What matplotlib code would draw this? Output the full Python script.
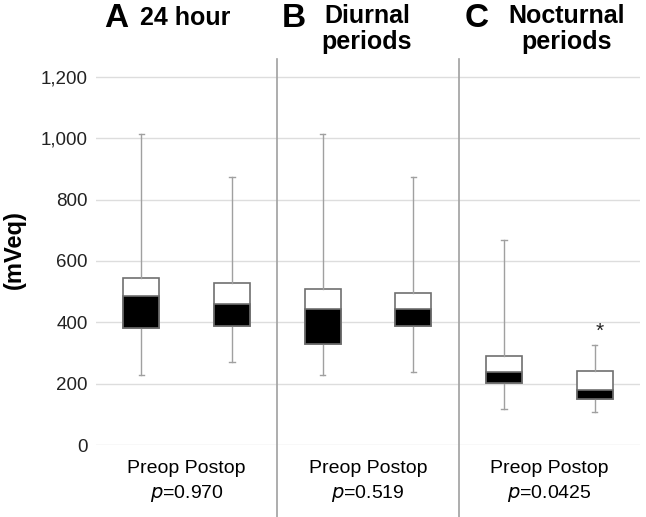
import matplotlib.pyplot as plt

plt.rcParams["font.family"] = ["Liberation Sans", "DejaVu Sans"]

# five-number summaries (mVeq)
groups = ["Preop", "Postop"]
panel_letters = ["A", "B", "C"]
panel_titles = ["24 hour", "Diurnal\nperiods", "Nocturnal\nperiods"]
p_values = ["0.970", "0.519", "0.0425"]

whisker_low = [228, 270, 228, 238, 117, 108]
q1 = [381, 388, 329, 388, 202, 150]
median = [486, 460, 443, 443, 238, 179]
q3 = [544, 528, 509, 496, 290, 241]
whisker_high = [1014, 874, 1014, 874, 669, 326]
positions = [0.25, 0.75, 1.25, 1.75, 2.25, 2.75]

yticks = [0, 200, 400, 600, 800, 1000, 1200]
ytick_labels = ["0", "200", "400", "600", "800", "1,000", "1,200"]

W, H = 646, 517
fig = plt.figure(figsize=(W / 100, H / 100), dpi=100)
ax = fig.add_axes([96 / W, 1 - 445 / H, (640 - 96) / W, (445 - 59) / H])

stats = [
    {"whislo": lo, "q1": a, "med": m, "q3": b, "whishi": hi, "fliers": []}
    for lo, a, m, b, hi in zip(whisker_low, q1, median, q3, whisker_high)
]
ax.bxp(
    stats,
    positions=positions,
    widths=0.2,
    patch_artist=True,
    showfliers=False,
    boxprops={"facecolor": "white", "edgecolor": "#707070", "linewidth": 1.2},
    whiskerprops={"color": "#a0a0a0", "linewidth": 1.0},
    capprops={"color": "#a0a0a0", "linewidth": 1.0},
    capwidths=0.03,
    medianprops={"linewidth": 0},
    zorder=3,
)
# black lower half of each box (Q1 to median)
ax.bar(
    positions,
    [m - a for m, a in zip(median, q1)],
    bottom=q1,
    width=0.2,
    color="black",
    edgecolor="#707070",
    linewidth=1.2,
    zorder=4,
)

ax.text(2.78, 372, "*", ha="center", va="center", fontsize=15, color="#222222")

ax.set_xlim(0, 3)
ax.set_ylim(0, 1258)
ax.set_yticks(yticks)
ax.set_yticklabels(ytick_labels, fontsize=13.5, color="#222222")
ax.set_xticks([])
ax.tick_params(axis="y", length=0, pad=6)
ax.grid(axis="y", color="#dddddd", linewidth=1.0, zorder=0)
ax.set_axisbelow(True)
for s in ax.spines.values():
    s.set_visible(False)

# panel separators extending below the axis
for x in [1, 2]:
    ax.plot([x, x], [-0.2, 1.0], transform=ax.get_xaxis_transform(),
            color="#a0a0a0", linewidth=1.2, clip_on=False, zorder=1)

fig.text(14 / W, 1 - 250 / H, "(mVeq)", rotation=90, ha="center", va="center",
         fontsize=17, fontweight="bold")

for i in range(3):
    cx = i + 0.5
    ax.text(cx, -0.06, " ".join(groups), transform=ax.get_xaxis_transform(),
            ha="center", va="center", fontsize=14)
    ax.text(cx, -0.125, "$p$=" + p_values[i], transform=ax.get_xaxis_transform(),
            ha="center", va="center", fontsize=14)

# panel titles
fig.text(104 / W, 1 - 27 / H, "A", fontsize=24, fontweight="bold", va="baseline")
fig.text(140 / W, 1 - 25 / H, "24 hour", fontsize=18, fontweight="bold", va="baseline")
fig.text(282 / W, 1 - 27 / H, "B", fontsize=24, fontweight="bold", va="baseline")
fig.text(367 / W, 1 - 4 / H, "Diurnal\nperiods", fontsize=18, fontweight="bold",
         ha="center", va="top", linespacing=1.1)
fig.text(465 / W, 1 - 27 / H, "C", fontsize=24, fontweight="bold", va="baseline")
fig.text(567 / W, 1 - 4 / H, "Nocturnal\nperiods", fontsize=18, fontweight="bold",
         ha="center", va="top", linespacing=1.1)

fig.savefig("out.png", dpi=100)
